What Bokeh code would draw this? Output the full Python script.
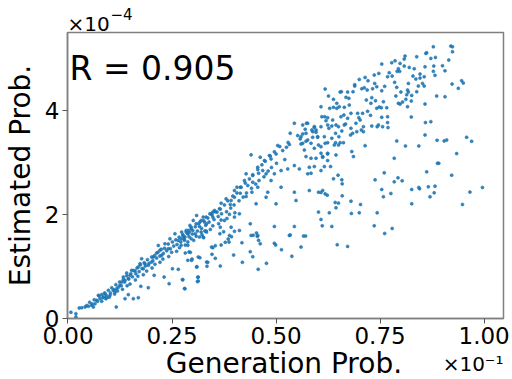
from bokeh.plotting import figure
from bokeh.models import Range1d, Label, FixedTicker, PrintfTickFormatter, Title, LinearAxis
from bokeh.embed import file_html
from bokeh.resources import INLINE

# Values: generation prob in units of 1e-1, estimated prob in units of 1e-4
x_ticks = [0.0, 0.25, 0.5, 0.75, 1.0]
y_ticks = [0, 2, 4]
r_text = "R = 0.905"
x_title = "Generation Prob."
y_title = "Estimated Prob."
x_scale_text = "×10⁻¹"
y_scale_base = "×10"
y_scale_exp = "−4"

band_lower_left = [
    (0.007, 0.119), (0.019, 0.093), (0.019, 0.030), (0.027, 0.202), (0.033, 0.208), (0.041, 0.221),
    (0.049, 0.234), (0.057, 0.253), (0.065, 0.285), (0.061, 0.221), (0.069, 0.349), (0.077, 0.381),
    (0.073, 0.445), (0.085, 0.413), (0.089, 0.477), (0.093, 0.400), (0.101, 0.445), (0.109, 0.541),
    (0.113, 0.509), (0.117, 0.573), (0.125, 0.637), (0.129, 0.700), (0.137, 0.732), (0.145, 0.764),
    (0.133, 0.796), (0.141, 0.873), (0.149, 0.828), (0.153, 0.924), (0.161, 0.911), (0.169, 0.988),
    (0.177, 1.148), (0.173, 1.052), (0.185, 1.052), (0.181, 0.956), (0.193, 1.020), (0.201, 1.084),
    (0.205, 1.180), (0.213, 1.256), (0.221, 1.308), (0.225, 1.212), (0.217, 1.403), (0.233, 1.435),
    (0.241, 1.340), (0.245, 1.531), (0.257, 1.627), (0.265, 1.499), (0.273, 1.659), (0.281, 1.563),
    (0.289, 1.691), (0.293, 1.787), (0.301, 1.883), (0.309, 1.978), (0.317, 1.851), (0.325, 1.947),
    (0.333, 1.819), (0.341, 2.010), (0.348, 2.042),
]

below_lower_left = [
    (0.116, 0.221), (0.137, 0.381), (0.145, 0.458), (0.157, 0.381), (0.169, 0.400), (0.175, 0.617),
    (0.193, 0.592), (0.207, 0.828), (0.231, 0.796), (0.243, 0.669), (0.251, 0.956), (0.265, 0.943),
    (0.275, 0.745), (0.281, 0.573), (0.291, 1.276), (0.297, 1.116), (0.313, 1.180), (0.313, 0.796),
    (0.313, 0.720), (0.309, 0.988), (0.333, 1.084), (0.345, 1.372), (0.325, 1.563), (0.333, 1.659),
]

band_upper_edge = [
    (0.045, 0.25), (0.052, 0.31), (0.058, 0.28), (0.063, 0.36), (0.071, 0.33), (0.075, 0.43),
    (0.081, 0.46), (0.084, 0.40), (0.088, 0.49), (0.092, 0.44), (0.097, 0.54), (0.102, 0.49),
    (0.105, 0.59), (0.111, 0.55), (0.115, 0.65), (0.121, 0.60), (0.124, 0.70), (0.128, 0.63),
    (0.133, 0.75), (0.136, 0.70), (0.141, 0.82), (0.146, 0.76), (0.151, 0.86), (0.155, 0.80),
    (0.158, 0.92), (0.163, 0.86), (0.166, 0.97), (0.171, 0.90), (0.174, 1.03), (0.178, 0.96),
    (0.183, 1.07), (0.186, 1.01), (0.191, 1.13), (0.195, 1.06), (0.201, 1.18), (0.204, 1.11),
    (0.208, 1.21), (0.213, 1.16), (0.216, 1.27), (0.221, 1.20), (0.224, 1.33), (0.229, 1.25),
    (0.232, 1.35), (0.237, 1.30), (0.241, 1.43), (0.246, 1.34), (0.251, 1.47), (0.254, 1.39),
    (0.259, 1.51), (0.262, 1.42), (0.267, 1.56), (0.271, 1.47), (0.276, 1.61), (0.279, 1.52),
    (0.284, 1.66), (0.291, 1.57), (0.296, 1.72), (0.299, 1.62), (0.306, 1.76), (0.311, 1.68),
    (0.314, 1.82), (0.321, 1.73), (0.326, 1.88), (0.331, 1.79), (0.336, 1.93), (0.339, 1.85),
    (0.346, 1.99), (0.351, 1.90), (0.354, 2.05), (0.361, 1.96), (0.366, 2.10), (0.369, 2.01),
]

band_lower_edge = [
    (0.081, 0.33), (0.091, 0.38), (0.099, 0.41), (0.112, 0.47), (0.119, 0.53), (0.131, 0.56),
    (0.142, 0.63), (0.149, 0.66), (0.162, 0.74), (0.168, 0.81), (0.181, 0.84), (0.189, 0.91),
    (0.202, 0.97), (0.209, 1.04), (0.221, 1.08), (0.228, 1.14), (0.242, 1.19), (0.249, 1.27),
    (0.261, 1.29), (0.268, 1.36), (0.282, 1.41), (0.288, 1.47), (0.302, 1.50), (0.308, 1.58),
    (0.322, 1.61), (0.329, 1.68), (0.342, 1.71), (0.348, 1.78), (0.362, 1.82), (0.368, 1.89),
    (0.382, 1.92), (0.388, 2.00), (0.401, 2.03),
]

band_middle = [
    (0.376, 2.18), (0.381, 2.05), (0.384, 2.26), (0.391, 2.12), (0.396, 2.35), (0.399, 2.18),
    (0.406, 2.41), (0.411, 2.26), (0.414, 2.52), (0.421, 2.33), (0.426, 2.60), (0.429, 2.41),
    (0.436, 2.68), (0.441, 2.50), (0.444, 2.76), (0.451, 2.58), (0.456, 2.86), (0.459, 2.65),
    (0.466, 2.95), (0.471, 2.72), (0.474, 3.02), (0.481, 2.83), (0.486, 3.12), (0.489, 2.90),
    (0.496, 3.20), (0.501, 2.98), (0.509, 3.30), (0.521, 3.05), (0.529, 3.38),
]

cloud_middle = [
    (0.544, 3.748), (0.573, 3.748), (0.592, 3.671), (0.586, 3.620), (0.596, 3.575), (0.600, 3.480),
    (0.564, 3.543), (0.552, 3.511), (0.534, 3.556), (0.558, 3.448), (0.572, 3.403), (0.560, 3.352),
    (0.532, 3.339), (0.525, 3.288), (0.504, 3.320), (0.516, 3.224), (0.500, 3.160), (0.484, 3.128),
    (0.488, 3.064), (0.472, 3.032), (0.462, 3.096), (0.440, 3.141), (0.456, 2.904), (0.468, 2.840),
    (0.476, 2.777), (0.458, 2.789), (0.444, 2.745), (0.428, 2.777), (0.444, 2.617), (0.432, 2.553),
    (0.416, 2.521), (0.424, 2.649), (0.406, 2.521), (0.400, 2.457), (0.414, 2.406), (0.442, 2.425),
    (0.428, 2.342), (0.400, 2.329), (0.392, 2.266), (0.380, 2.297), (0.390, 2.189), (0.368, 2.214),
    (0.364, 2.106), (0.352, 2.074), (0.358, 2.042), (0.344, 2.010), (0.348, 1.946), (0.332, 1.946),
    (0.320, 1.882), (0.328, 1.850), (0.308, 1.818), (0.316, 1.767), (0.296, 1.754), (0.300, 1.690),
    (0.284, 1.690), (0.288, 1.626), (0.276, 1.595), (0.272, 1.531), (0.488, 2.649), (0.496, 2.777),
    (0.512, 2.840), (0.528, 2.872), (0.544, 2.936), (0.556, 2.872), (0.576, 2.777), (0.580, 2.904),
    (0.608, 2.840), (0.624, 3.032), (0.612, 3.096), (0.624, 3.160), (0.512, 2.521), (0.500, 2.202),
    (0.544, 2.425), (0.548, 2.266), (0.580, 2.457), (0.602, 2.425), (0.602, 2.042), (0.618, 2.393),
    (0.438, 1.818), (0.440, 1.595), (0.456, 1.595), (0.412, 1.690), (0.392, 1.754), (0.376, 1.882),
    (0.366, 1.754), (0.388, 1.595), (0.496, 1.767), (0.532, 1.595), (0.544, 1.767), (0.456, 2.521),
    (0.480, 2.425), (0.476, 2.329), (0.412, 2.010), (0.400, 1.946), (0.452, 2.202),
]

cloud_upper = [
    (0.878, 5.216), (0.920, 5.229), (0.924, 5.216), (0.924, 5.120), (0.860, 5.089), (0.862, 5.101),
    (0.838, 5.025), (0.810, 5.037), (0.808, 4.980), (0.872, 4.993), (0.883, 5.012), (0.915, 4.961),
    (0.786, 4.948), (0.778, 4.910), (0.754, 4.884), (0.798, 4.897), (0.808, 4.846), (0.794, 4.795),
    (0.791, 4.744), (0.797, 4.744), (0.820, 4.820), (0.832, 4.795), (0.858, 4.833), (0.879, 4.846),
    (0.900, 4.852), (0.878, 4.744), (0.882, 4.667), (0.906, 4.756), (0.923, 4.501), (0.946, 4.565),
    (0.950, 4.520), (0.938, 4.418), (0.906, 4.258), (0.886, 4.271), (0.846, 4.692), (0.846, 4.616),
    (0.829, 4.654), (0.836, 4.597), (0.856, 4.641), (0.772, 4.718), (0.768, 4.641), (0.747, 4.705),
    (0.736, 4.673), (0.714, 4.628), (0.721, 4.565), (0.700, 4.590), (0.689, 4.488), (0.737, 4.513),
    (0.742, 4.450), (0.761, 4.456), (0.754, 4.373), (0.758, 4.162), (0.748, 4.060), (0.742, 4.034),
    (0.753, 4.047), (0.766, 4.047), (0.768, 3.874), (0.754, 3.862), (0.746, 3.715), (0.743, 3.683),
    (0.756, 3.683), (0.769, 3.664), (0.730, 3.695), (0.720, 3.977), (0.727, 3.900), (0.708, 3.938),
    (0.696, 3.938), (0.699, 3.855), (0.692, 3.747), (0.705, 3.619), (0.710, 3.587), (0.694, 3.587),
    (0.680, 3.651), (0.679, 3.523), (0.667, 3.734), (0.656, 3.874), (0.658, 3.600), (0.651, 3.491),
    (0.662, 3.376), (0.654, 3.376), (0.650, 3.683), (0.643, 3.555), (0.643, 3.376), (0.636, 3.811),
    (0.624, 3.855), (0.627, 3.651), (0.620, 3.798), (0.617, 3.874), (0.616, 3.491), (0.618, 3.363),
    (0.608, 3.299), (0.602, 3.331), (0.592, 3.683), (0.588, 3.587), (0.576, 3.747), (0.572, 3.555),
    (0.560, 3.491), (0.564, 3.363), (0.568, 3.235), (0.572, 3.108), (0.584, 3.076), (0.596, 3.076),
    (0.608, 3.172), (0.612, 3.108), (0.624, 3.172), (0.644, 3.140), (0.682, 3.204), (0.686, 3.108),
    (0.714, 3.318), (0.790, 3.408), (0.811, 3.312), (0.843, 3.312), (0.858, 3.523), (0.887, 3.421),
    (0.904, 3.408), (0.910, 3.427), (0.958, 3.478), (0.970, 3.402), (0.934, 3.165), (0.784, 3.076),
    (0.888, 2.980), (0.891, 2.980), (0.631, 2.916), (0.616, 2.916), (0.592, 2.916), (0.584, 2.788),
    (0.608, 4.066), (0.618, 4.405), (0.638, 4.207), (0.626, 4.271), (0.646, 4.130), (0.654, 4.347),
    (0.657, 4.354), (0.668, 4.245), (0.672, 4.347), (0.675, 4.226), (0.685, 4.354), (0.689, 4.462),
    (0.706, 4.411), (0.712, 4.430), (0.719, 4.386), (0.732, 4.411), (0.730, 4.239), (0.717, 4.194),
    (0.728, 4.130), (0.739, 4.181), (0.779, 4.654), (0.785, 4.533), (0.790, 4.437), (0.800, 4.347),
    (0.798, 4.117), (0.804, 4.156), (0.794, 4.130), (0.816, 4.066), (0.812, 4.207), (0.818, 4.513),
    (0.818, 4.347), (0.825, 4.175), (0.838, 4.354), (0.842, 4.462), (0.852, 4.513), (0.856, 4.462),
    (0.858, 4.117), (0.872, 3.779), (0.859, 3.760), (0.825, 3.868), (0.768, 3.760), (0.788, 4.271),
    (0.816, 4.386), (0.814, 4.296), (0.826, 4.283), (0.646, 4.034), (0.652, 4.066), (0.664, 4.053),
    (0.676, 4.098), (0.680, 3.938), (0.663, 3.906), (0.638, 4.053), (0.629, 4.034), (0.610, 3.874),
    (0.624, 3.715), (0.634, 3.695), (0.644, 3.715), (0.664, 3.715), (0.672, 3.843), (0.684, 3.555),
    (0.702, 3.811), (0.710, 3.683), (0.634, 3.459), (0.640, 3.331), (0.650, 3.331), (0.624, 3.376),
    (0.600, 3.491), (0.588, 3.478), (0.576, 3.427), (0.584, 3.363), (0.592, 3.267), (0.570, 3.632),
    (0.564, 3.715), (0.596, 3.619), (0.608, 3.683),
]

scatter_lower_middle = [
    (0.365, 1.628), (0.374, 1.666), (0.393, 1.571), (0.400, 1.673), (0.418, 1.456), (0.445, 1.596),
    (0.453, 1.641), (0.455, 1.577), (0.458, 1.500), (0.462, 1.436), (0.385, 1.526), (0.387, 1.468),
    (0.378, 1.462), (0.368, 1.411), (0.354, 1.398), (0.348, 1.360), (0.346, 1.232), (0.354, 1.155),
    (0.336, 1.079), (0.334, 1.002), (0.310, 0.995), (0.317, 1.168), (0.366, 1.008), (0.398, 1.219),
    (0.419, 1.079), (0.438, 1.283), (0.444, 1.187), (0.457, 0.944), (0.477, 1.059), (0.496, 1.443),
    (0.499, 1.411), (0.513, 1.321), (0.534, 1.603), (0.538, 1.194), (0.560, 1.372), (0.566, 1.583),
    (0.571, 1.583), (0.276, 0.746), (0.312, 0.791), (0.311, 0.708), (0.280, 0.574), (0.298, 1.142),
    (0.288, 1.117), (0.282, 1.257), (0.294, 1.270), (0.272, 1.404), (0.288, 1.404), (0.316, 1.564),
    (0.326, 1.551), (0.306, 1.628), (0.288, 1.628), (0.292, 1.660), (0.278, 1.564), (0.296, 1.532),
    (0.280, 1.500), (0.320, 1.660), (0.332, 1.679),
]

scatter_lower_right = [
    (0.649, 2.752), (0.638, 2.681), (0.658, 2.662), (0.659, 2.585), (0.612, 2.458), (0.608, 2.419),
    (0.623, 2.368), (0.659, 2.355), (0.642, 2.228), (0.650, 2.215), (0.644, 2.125), (0.680, 2.253),
    (0.703, 2.189), (0.628, 2.029), (0.681, 2.017), (0.700, 2.029), (0.608, 1.902), (0.611, 1.780),
    (0.634, 1.768), (0.647, 1.416), (0.672, 1.384), (0.760, 2.796), (0.738, 2.662), (0.754, 2.477),
    (0.758, 2.336), (0.776, 2.400), (0.784, 2.624), (0.793, 2.700), (0.803, 2.643), (0.743, 2.029),
    (0.736, 1.780), (0.761, 1.633), (0.779, 1.729), (0.826, 2.477), (0.826, 2.202), (0.843, 2.515),
    (0.845, 2.490), (0.862, 2.815), (0.866, 2.528), (0.870, 2.336), (0.880, 2.413), (0.882, 2.541),
    (0.922, 2.752), (0.948, 2.189), (0.966, 2.426), (0.996, 2.515),
]

groups = [band_lower_left, below_lower_left, band_upper_edge, band_lower_edge, band_middle,
          cloud_middle, cloud_upper, scatter_lower_middle, scatter_lower_right]
gen_prob = [pt[0] for g in groups for pt in g]
est_prob = [pt[1] for g in groups for pt in g]

FONT = "DejaVu Sans"

p = figure(width=512, height=379, output_backend="svg", toolbar_location=None,
           x_range=Range1d(-0.0012, 1.0466), y_range=Range1d(0, 5.49),
           min_border_left=66, min_border_right=9, min_border_top=32, min_border_bottom=61)
p.background_fill_color = "white"
p.border_fill_color = "white"
p.xgrid.visible = False
p.ygrid.visible = False
p.outline_line_color = "#808080"
p.outline_line_width = 1.5
p.outline_line_alpha = 1.0

p.xaxis.ticker = FixedTicker(ticks=x_ticks)
p.xaxis.formatter = PrintfTickFormatter(format="%.2f")
p.yaxis.ticker = FixedTicker(ticks=y_ticks)
p.yaxis.formatter = PrintfTickFormatter(format="%.0f")
for ax in (p.xaxis, p.yaxis):
    ax.axis_line_color = "#808080"
    ax.axis_line_width = 1.5
    ax.major_tick_line_color = "#555555"
    ax.major_tick_line_width = 1
    ax.major_tick_out = 5
    ax.major_tick_in = 0
    ax.minor_tick_out = 0
    ax.minor_tick_in = 0
    ax.major_label_text_font = FONT
    ax.major_label_text_font_size = "23px"
    ax.major_label_text_color = "black"
    ax.major_label_standoff = 3
    ax.axis_label_text_font = FONT
    ax.axis_label_text_font_size = "28px"
    ax.axis_label_text_font_style = "normal"
    ax.axis_label_text_color = "black"

p.yaxis.axis_label = y_title
p.yaxis.axis_label_standoff = 5

# second bottom axis: x title as its single tick label, x scale factor as its label
# (centred label, padded on the left with no-break spaces so it ends at the frame's right edge)
x_title_center = 0.519
x_title_axis = LinearAxis(
    ticker=FixedTicker(ticks=[x_title_center]),
    formatter=PrintfTickFormatter(format=x_title),
    axis_line_color=None,
    major_tick_out=0, major_tick_in=0, minor_tick_out=0, minor_tick_in=0,
    major_label_standoff=0,
    major_label_text_font=FONT, major_label_text_font_size="28px",
    major_label_text_color="black",
    axis_label="\u00a0" * 59 + x_scale_text,
    axis_label_align="center",
    axis_label_standoff=-31,
    axis_label_text_font=FONT, axis_label_text_font_size="20px",
    axis_label_text_font_style="normal", axis_label_text_color="black",
)
p.add_layout(x_title_axis, "below")

p.scatter(gen_prob, est_prob, size=3.0, fill_color="#1f77b4", line_color="#1f77b4",
          fill_alpha=0.9, line_alpha=0.6)

p.add_layout(Label(x=0.0036, y=4.80, text=r_text, text_font=FONT, text_font_size="33px",
                   text_color="black", text_align="left", text_baseline="alphabetic"))

p.add_layout(Title(text=y_scale_base, align="left", text_font=FONT, text_font_size="20px",
                   text_font_style="normal", text_color="black", standoff=-6, offset=0), "above")
p.add_layout(Title(text=y_scale_exp, align="left", text_font=FONT, text_font_size="15px",
                   text_font_style="normal", text_color="black", standoff=-14, offset=43), "above")

open("out.html", "w").write(file_html(p, INLINE))
